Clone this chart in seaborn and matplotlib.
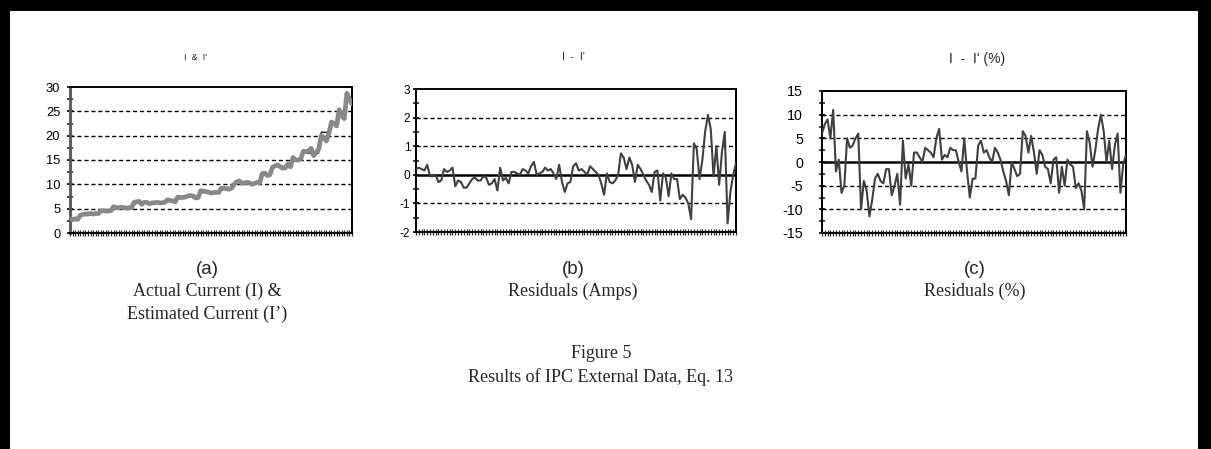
import numpy as np
import pandas as pd
import matplotlib
matplotlib.use("Agg")
import matplotlib.pyplot as plt
from matplotlib.patches import Rectangle
from matplotlib.ticker import MultipleLocator
import seaborn as sns

# ---------------- data ----------------
est_current = [2.8, 2.8, 2.9, 2.8, 3.6, 3.8, 3.9, 3.9, 4.0, 3.9, 4.0, 4.0,
               4.5, 4.6, 4.5, 4.5, 4.6, 5.4, 5.2, 5.2, 5.3, 5.2, 5.1, 5.2, 5.2,
               6.3, 6.4, 6.5, 5.9, 6.3, 6.3, 6.0, 6.2, 6.2, 6.3, 6.2, 6.2, 6.3,
               6.8, 6.7, 6.6, 6.4, 7.4, 7.3, 7.3, 7.4, 7.6, 7.7, 7.6, 7.2, 7.3,
               8.7, 8.6, 8.5, 8.4, 8.2, 8.3, 8.4, 8.3, 9.2, 9.2, 9.1, 9.0, 9.2,
               10.0, 10.5, 10.7, 10.2, 10.3, 10.4, 10.3, 10.0, 10.2, 10.4, 10.3,
               12.2, 12.3, 11.8, 12.0, 13.5, 13.8, 14.0, 13.6, 13.3, 13.4, 14.2, 13.6,
               15.5, 15.0, 15.0, 15.2, 16.8, 16.7, 16.8, 17.4, 15.9, 16.5, 17.2,
               20.0, 19.6, 18.9, 20.5, 22.8, 22.5, 22.0, 25.3, 24.0, 23.5, 28.7, 27.5, 26.5]

act_current = [2.8, 2.8, 2.8, 2.8, 3.9, 3.9, 3.9, 3.9, 3.9, 3.9, 3.9, 3.9,
               4.5, 4.5, 4.5, 4.5, 4.5, 5.2, 5.2, 5.2, 5.2, 5.2, 5.2, 5.2, 5.2,
               6.2, 6.2, 6.2, 6.2, 6.2, 6.2, 6.2, 6.2, 6.2, 6.2, 6.2, 6.2, 6.2,
               6.7, 6.7, 6.7, 6.7, 7.4, 7.4, 7.4, 7.4, 7.4, 7.4, 7.4, 7.4, 7.4,
               8.5, 8.5, 8.5, 8.5, 8.5, 8.5, 8.5, 8.5, 9.1, 9.1, 9.1, 9.1, 9.1,
               10.3, 10.3, 10.3, 10.3, 10.3, 10.3, 10.3, 10.3, 10.3, 10.3, 10.3,
               12.1, 12.1, 12.1, 12.1, 13.7, 13.7, 13.7, 13.7, 13.7, 13.7, 13.7, 13.7,
               15.2, 15.2, 15.2, 15.2, 16.4, 16.4, 16.4, 16.4, 16.4, 16.4, 16.4,
               20.7, 20.7, 20.7, 20.7, 22.9, 22.9, 22.9, 24.4, 24.4, 24.4, 27.5, 27.5, 27.5]

resid_amps = [0.2, 0.25, 0.2, 0.15, 0.35, -0.05, -0.05, 0.0, -0.25, -0.2,
              0.2, 0.1, 0.15, 0.25, -0.4, -0.2, -0.25, -0.45, -0.45, -0.3,
              -0.15, -0.1, -0.2, -0.2, -0.05, -0.1, -0.35, -0.3, -0.15, -0.55,
              0.25, -0.2, -0.1, -0.3, 0.1, 0.1, 0.05, 0.0, 0.2, 0.15,
              0.05, 0.3, 0.45, 0.0, 0.05, 0.1, 0.25, 0.15, 0.2, 0.05,
              -0.15, 0.35, -0.25, -0.6, -0.3, -0.25, 0.3, 0.4, 0.15, 0.2,
              0.1, 0.0, 0.3, 0.2, 0.1, 0.0, -0.3, -0.7, 0.05, -0.25,
              -0.3, -0.2, 0.0, 0.75, 0.6, 0.2, 0.6, 0.35, -0.25, 0.35,
              0.2, 0.0, -0.2, -0.35, -0.6, 0.1, 0.15, -0.9, 0.05, -0.1,
              -0.75, 0.05, -0.15, -0.15, -0.85, -0.7, -0.8, -1.0, -1.55, 1.1,
              0.9, -0.15, 0.5, 1.5, 2.1, 1.6, -0.05, 1.0, -0.35, 0.8,
              1.5, -1.7, -0.6, 0.0, 0.4]

resid_pct = [6, 8, 9, 5, 11, -2, 0.5, -6.5, -5, 5,
             3, 3.5, 5, 6, -10, -4, -6, -11.5, -8, -3.5,
             -2.5, -4, -4.5, -1.5, -1.5, -7, -5, -2.5, -9, 4.5,
             -3.5, -0.5, -5, 2, 2, 1, 0, 3, 2.5, 2,
             1, 5, 7, 0.5, 1.5, 1, 3, 2.5, 2.5, 0,
             -2, 5, -2, -7.5, -3.5, -3.5, 3.5, 4.5, 2, 2.5,
             1, 0, 3, 2, 0.5, -2, -4, -7, 0, -1.5,
             -3, -2.5, 6.5, 5.5, 2, 5.5, 2, -2.5, 2.5, 1.5,
             -1, -1.5, -4.5, 0.5, 1, -6.5, -1, -5, 0.5, -0.5,
             -1, -5.5, -4.5, -6, -10, 6.5, 4, -1, 2.5, 7,
             10, 6.5, 0, 4.5, -1.5, 3.5, 6, -6.5, -0.5, 1.5]

panel_titles = ["I  &  I'", "I  -  I'", "I  -  I' (%)"]
panel_letters = ["(a)", "(b)", "(c)"]
panel_captions = ["Actual Current (I) &\nEstimated Current (I\u2019)",
                  "Residuals (Amps)", "Residuals (%)"]
figure_caption = ["Figure 5", "Results of IPC External Data, Eq. 13"]

# ---------------- figure ----------------
sns.set_style("white")
plt.rcParams['font.family'] = ['Liberation Sans', 'DejaVu Sans']
plt.rcParams['axes.unicode_minus'] = False

W, H = 1211, 449
fig = plt.figure(figsize=(W / 100, H / 100), dpi=100)
fig.patch.set_facecolor("white")

def px_axes(x0, y0, x1, y1):
    return fig.add_axes([x0 / W, 1 - y1 / H, (x1 - x0) / W, (y1 - y0) / H])

axa = px_axes(70, 87, 352, 233)
axb = px_axes(416, 89, 736, 232)
axc = px_axes(822, 91, 1126, 233)

def style_axes(ax, ymin, ymax, major, minor, n, zero_line, lsize, lpad):
    ax.set_ylim(ymin, ymax)
    ax.set_xlim(0, n - 1)
    ax.yaxis.set_major_locator(MultipleLocator(major))
    ax.yaxis.set_minor_locator(MultipleLocator(minor))
    ax.set_xticks(np.arange(n))
    ax.set_xticklabels([])
    ax.set_xlabel("")
    ax.set_ylabel("")
    for v in np.arange(ymin + major, ymax, major):
        if zero_line and abs(v) < 1e-9:
            continue
        ax.axhline(v, color="black", lw=1.0, ls=(0, (3, 2)), zorder=1)
    if zero_line:
        ax.axhline(0, color="black", lw=1.8, zorder=2)
    for s in ax.spines.values():
        s.set_visible(True)
        s.set_color("black")
        s.set_linewidth(1.4)
    ax.tick_params(axis="y", which="major", direction="inout", length=5, width=1.2,
                   labelsize=lsize, pad=lpad, colors="black", left=True)
    ax.tick_params(axis="y", which="minor", direction="inout", length=4, width=1.2, left=True)
    ax.tick_params(axis="x", which="major", direction="inout", length=4, width=0.9,
                   bottom=True)
    if ax.get_legend() is not None:
        ax.get_legend().remove()

# panel (a)
dfa = pd.DataFrame({"idx": np.arange(len(est_current)),
                    "est": est_current, "act": act_current})
sns.lineplot(data=dfa, x="idx", y="act", ax=axa, color="black", lw=0.9, zorder=3)
sns.lineplot(data=dfa, x="idx", y="est", ax=axa, color="#888888", lw=3.4, zorder=4)
style_axes(axa, 0, 30, 5, 2.5, len(est_current), False, 9.3, 4.5)
axa.spines["left"].set_color("#555555")
axa.spines["left"].set_linewidth(2)

# panel (b)
dfb = pd.DataFrame({"idx": np.arange(len(resid_amps)), "r": resid_amps})
sns.lineplot(data=dfb, x="idx", y="r", ax=axb, color="#404040", lw=1.5, zorder=3)
style_axes(axb, -2, 3, 1, 0.5, len(resid_amps), True, 8.6, 1.5)

# panel (c)
dfc = pd.DataFrame({"idx": np.arange(len(resid_pct)), "r": resid_pct})
sns.lineplot(data=dfc, x="idx", y="r", ax=axc, color="#404040", lw=1.5, zorder=3)
style_axes(axc, -15, 15, 5, 2.5, len(resid_pct), True, 10.3, 11)

# small chart titles
fig.text(195 / W, 1 - 57 / H, panel_titles[0], ha="center", va="center", fontsize=6.5)
fig.text(573 / W, 1 - 57 / H, panel_titles[1], ha="center", va="center", fontsize=7.5)
fig.text(977 / W, 1 - 59 / H, panel_titles[2], ha="center", va="center", fontsize=10)

# letters and captions
cx = [207, 573, 975]
for i in range(3):
    fig.text(cx[i] / W, 1 - 270 / H, panel_letters[i], ha="center", va="center",
             fontsize=13.5, family=["Liberation Sans", "DejaVu Sans"])
    fig.text(cx[i] / W, 1 - 283 / H, panel_captions[i], ha="center", va="top",
             fontsize=13, family=["Liberation Serif", "DejaVu Serif"], linespacing=1.4)

fig.text(601 / W, 1 - 353 / H, figure_caption[0], ha="center", va="center",
         fontsize=13, family=["Liberation Serif", "DejaVu Serif"])
fig.text(601 / W, 1 - 377 / H, figure_caption[1], ha="center", va="center",
         fontsize=13, family=["Liberation Serif", "DejaVu Serif"])

# black page border (left, top, right)
for (x0, y0, w, h) in [(0, 0, 10, H), (0, 0, W, 11), (W - 13, 0, 13, H)]:
    fig.add_artist(Rectangle((x0 / W, 1 - (y0 + h) / H), w / W, h / H,
                             transform=fig.transFigure, color="black", lw=0))

fig.savefig("out.png", dpi=100)
